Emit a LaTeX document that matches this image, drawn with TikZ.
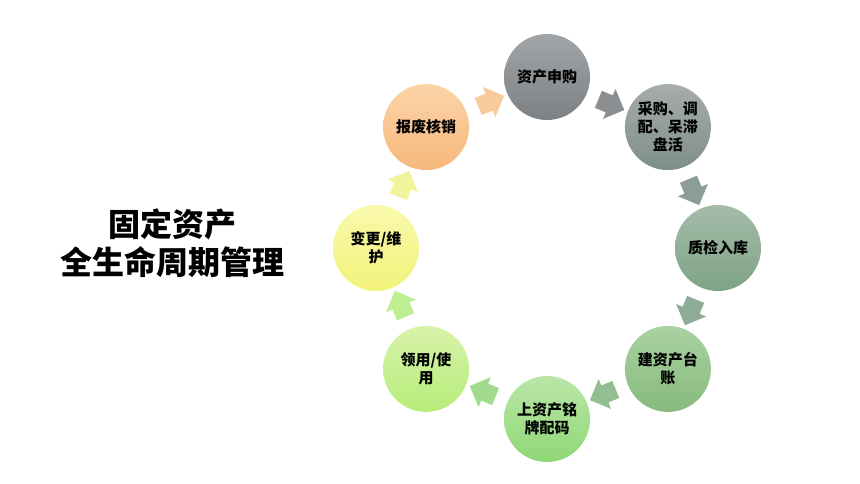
\documentclass[tikz,border=0pt]{standalone}
\usepackage{fontspec}
\newfontfamily\cjk{Noto Sans CJK SC}
\usetikzlibrary{shapes.arrows}
\definecolor{sAtop}{HTML}{A2A5A8}\definecolor{sAbot}{HTML}{7E8184}
\definecolor{sBtop}{HTML}{A6ADAA}\definecolor{sBbot}{HTML}{7F8E88}
\definecolor{sCtop}{HTML}{A4BCA8}\definecolor{sCbot}{HTML}{7FA386}
\definecolor{sDtop}{HTML}{AAD2A2}\definecolor{sDbot}{HTML}{86BA7C}
\definecolor{sEtop}{HTML}{BAE6A6}\definecolor{sEbot}{HTML}{8FD876}
\definecolor{sFtop}{HTML}{D8F3AA}\definecolor{sFbot}{HTML}{B6EC7A}
\definecolor{sGtop}{HTML}{F9F9AC}\definecolor{sGbot}{HTML}{F2F27A}
\definecolor{sHtop}{HTML}{FCD4A8}\definecolor{sHbot}{HTML}{F6B87C}
\definecolor{aAB}{HTML}{8B8F92}\definecolor{aBC}{HTML}{8E9C97}
\definecolor{aCD}{HTML}{8FAC98}\definecolor{aDE}{HTML}{92BE91}
\definecolor{aEF}{HTML}{A2DA90}\definecolor{aFG}{HTML}{BDEE92}
\definecolor{aGH}{HTML}{F2F49C}\definecolor{aHA}{HTML}{F9CA9A}
\begin{document}
\begin{tikzpicture}[x=1pt,y=1pt,inner sep=0pt,outer sep=0pt,
stage/.style={circle,minimum size=86pt,align=center,shading=axis,font=\cjk\bfseries\fontsize{15}{18}\selectfont},
flow/.style={single arrow,inner xsep=0pt,inner ysep=9pt,minimum height=28pt,single arrow head extend=7pt,single arrow tip angle=90}]
\useasboundingbox (0,0) rectangle (860,484);
\coordinate (ring) at (547,236);
\node[align=center,font=\cjk\bfseries\fontsize{32}{38}\selectfont] (title) at (172,241) {固定资产\\全生命周期管理};
% stages, clockwise from the top
\draw (ring) ++(90:171) node[stage,top color=sAtop,bottom color=sAbot] (apply) {资产申购};
\draw (ring) ++(45:171) node[stage,top color=sBtop,bottom color=sBbot] (buy) {采购、调\\配、呆滞\\盘活};
\draw (ring) ++(0:171) node[stage,top color=sCtop,bottom color=sCbot] (check) {质检入库};
\draw (ring) ++(-45:171) node[stage,top color=sDtop,bottom color=sDbot] (ledger) {建资产台\\账};
\draw (ring) ++(-90:171) node[stage,top color=sEtop,bottom color=sEbot] (plate) {上资产铭\\牌配码};
\draw (ring) ++(-135:171) node[stage,top color=sFtop,bottom color=sFbot] (use) {领用/使\\用};
\draw (ring) ++(180:171) node[stage,top color=sGtop,bottom color=sGbot] (change) {变更/维\\护};
\draw (ring) ++(135:171) node[stage,top color=sHtop,bottom color=sHbot] (scrap) {报废核销};
% block arrows between the stages
\draw (ring) ++(67.5:157) node[flow,rotate=-22.5,fill=aAB] (apply-buy) {};
\draw (ring) ++(22.5:157) node[flow,rotate=-67.5,fill=aBC] (buy-check) {};
\draw (ring) ++(-22.5:157) node[flow,rotate=-112.5,fill=aCD] (check-ledger) {};
\draw (ring) ++(-67.5:157) node[flow,rotate=-157.5,fill=aDE] (ledger-plate) {};
\draw (ring) ++(-112.5:157) node[flow,rotate=157.5,fill=aEF] (plate-use) {};
\draw (ring) ++(-157.5:157) node[flow,rotate=112.5,fill=aFG] (use-change) {};
\draw (ring) ++(157.5:157) node[flow,rotate=67.5,fill=aGH] (change-scrap) {};
\draw (ring) ++(112.5:157) node[flow,rotate=22.5,fill=aHA] (scrap-apply) {};
\end{tikzpicture}
\end{document}
